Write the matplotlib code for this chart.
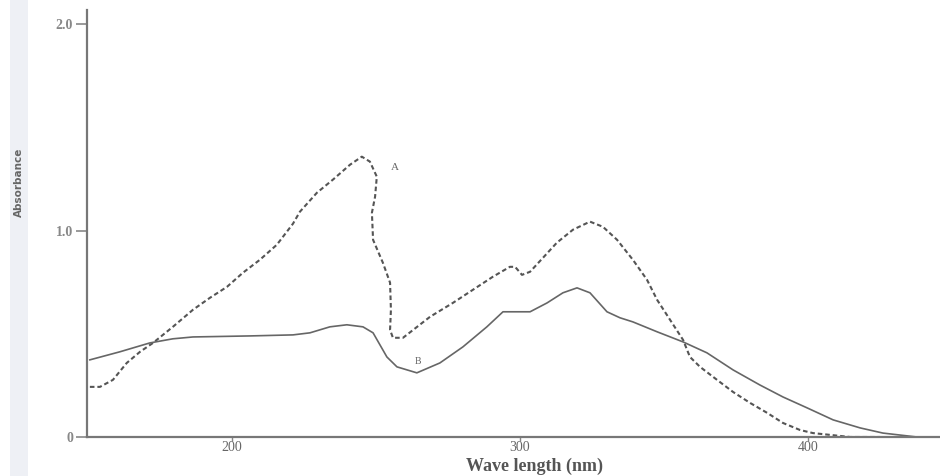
import matplotlib
matplotlib.use("Agg")
import matplotlib.pyplot as plt
from matplotlib.patches import Rectangle

# Curve A (dashed)
wl_a = [150.7, 154.2, 158.7, 163.5, 168.1, 172.6, 179.5, 186.5, 192.4, 198.3,
        203.8, 209.7, 215.6, 221.2, 223.6, 229.5, 235.1, 241.0, 245.1, 247.9,
        250.3, 249.7, 248.6, 249.0, 252.4, 254.9, 255.2, 254.9, 255.9, 259.4,
        268.8, 276.7, 283.7, 290.6, 296.5, 298.3, 300.7, 303.5, 308.0, 312.8,
        318.4, 324.3, 328.8, 333.7, 339.2, 344.1, 347.6, 352.1, 356.6, 359.0,
        362.5, 368.4, 374.0, 379.9, 385.8, 391.3, 397.2, 401.7, 414.6, 425.0]
abs_a = [0.243, 0.243, 0.277, 0.359, 0.413, 0.456, 0.534, 0.617, 0.675, 0.728,
         0.796, 0.859, 0.932, 1.034, 1.092, 1.184, 1.248, 1.320, 1.359, 1.335,
         1.262, 1.165, 1.087, 0.956, 0.845, 0.748, 0.617, 0.519, 0.481, 0.481,
         0.583, 0.650, 0.714, 0.777, 0.825, 0.825, 0.786, 0.801, 0.869, 0.942,
         1.005, 1.044, 1.019, 0.956, 0.859, 0.762, 0.665, 0.568, 0.471, 0.388,
         0.340, 0.277, 0.218, 0.165, 0.117, 0.068, 0.034, 0.019, 0.0, 0.0]

# Curve B (solid)
wl_b = [150.7, 161.1, 171.5, 179.5, 186.5, 206.3, 221.2, 227.1, 234.0, 239.9,
        245.5, 249.0, 253.8, 257.3, 264.2, 272.2, 280.2, 288.5, 294.1, 299.0,
        303.5, 309.4, 314.9, 319.8, 324.3, 330.2, 334.7, 339.2, 347.6, 356.6,
        364.9, 374.0, 383.3, 391.3, 399.7, 408.7, 418.1, 426.0, 437.8, 445.8]
abs_b = [0.374, 0.413, 0.456, 0.476, 0.485, 0.490, 0.495, 0.505, 0.534, 0.544,
         0.534, 0.505, 0.388, 0.340, 0.311, 0.359, 0.437, 0.534, 0.607, 0.607,
         0.607, 0.650, 0.699, 0.723, 0.699, 0.607, 0.578, 0.558, 0.510, 0.461,
         0.408, 0.325, 0.252, 0.194, 0.141, 0.083, 0.044, 0.019, 0.0, 0.0]

x_ticks = [200, 300, 400]
x_tick_labels = ["200", "300", "400"]
y_ticks = [0, 1.0, 2.0]
y_tick_labels = ["0", "1.0", "2.0"]

W, H = 940, 476
fig = plt.figure(figsize=(W / 100, H / 100), dpi=100)
fig.patch.set_facecolor("white")

# faint scan band at left
fig.patches.append(Rectangle((10 / W, 0), 18 / W, 1, transform=fig.transFigure,
                             facecolor="#eef0f5", edgecolor="none", zorder=0))

ax = fig.add_axes([87 / W, 1 - 437 / H, 1 - 87 / W, (437 - 10) / H])
ax.set_xlim(149.7, 445.8)
ax.set_ylim(0, 2.07)

ax.plot(wl_a, abs_a, color="#555555", lw=1.5, linestyle=(0, (2.2, 1.4)),
        solid_joinstyle="round", dash_joinstyle="round")
ax.plot(wl_b, abs_b, color="#666666", lw=1.2, linestyle="-",
        solid_joinstyle="round")

for s in ["top", "right"]:
    ax.spines[s].set_visible(False)
for s in ["left", "bottom"]:
    ax.spines[s].set_color("#777777")
    ax.spines[s].set_linewidth(1.6)

serif = ["Liberation Serif", "DejaVu Serif"]
ax.set_xticks(x_ticks)
ax.set_xticklabels(x_tick_labels, family=serif, fontsize=10, color="#666666")
ax.set_yticks(y_ticks)
ax.set_yticklabels(y_tick_labels, family=serif, fontsize=10, color="#888888",
                   fontweight="bold")
ax.tick_params(axis="x", direction="out", length=3, width=1, color="#888888", pad=0)
ax.tick_params(axis="y", direction="out", length=8, width=1.2, color="#888888", pad=2)

ax.text(256.6, 1.306, "A", family=serif, fontsize=8, color="#666666",
        ha="center", va="center")
ax.text(264.6, 0.364, "B", family=serif, fontsize=7, color="#666666",
        ha="center", va="center")

fig.text(534 / W, 1 - 466 / H, "Wave length (nm)", family=serif, fontsize=13,
         fontweight="bold", color="#555555", ha="center", va="center")
fig.text(19 / W, 1 - 182 / H, "Absorbance", family=["DejaVu Sans"], fontsize=7.5,
         fontweight="bold", color="#666666", rotation=90, ha="center", va="center")

fig.savefig("out.png", dpi=100, facecolor="white")
